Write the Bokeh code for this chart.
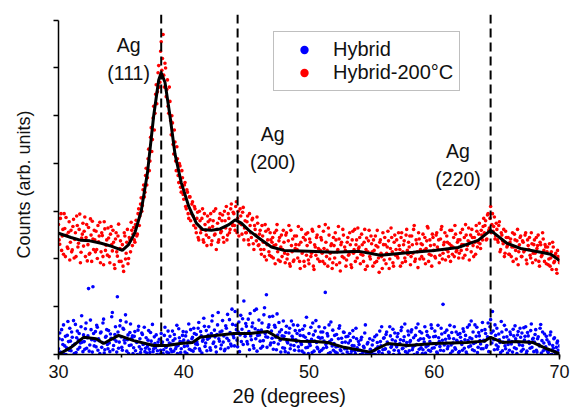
import numpy as np
from bokeh.plotting import figure
from bokeh.models import Range1d, SingleIntervalTicker, Span, Legend, LegendItem, Title
from bokeh.core.properties import value
from bokeh.embed import file_html
from bokeh.resources import INLINE

# ---------------- data ----------------
two_theta_start = 30.0
two_theta_end = 70.0

# "Hybrid" scatter counts, one per 0.1 degree from 30.00 to 70.00
hybrid_counts_a = [
    0.12, 0.45, 0.03, 0.31, 0.62, 0.18, 0.00, 0.40, 0.27, 0.55,
    0.08, 0.36, 0.71, 0.22, 0.04, 0.49, 0.30, 0.15, 0.58, 0.26,
    0.41, 0.11, 0.66, 0.35, 1.38, 0.20, 0.52, 0.05, 0.44, 0.29,
    0.16, 0.57, 0.33, 0.02, 0.47, 0.25, 0.74, 0.10, 0.38, 0.21,
    0.50, 0.06, 0.34, 0.88, 0.19, 0.42, 0.28, 1.21, 0.13, 0.60,
    0.37, 0.09, 0.53, 0.24, 0.68, 0.31, 0.02, 0.46, 0.20, 0.39,
    0.14, 0.48, 0.27, 0.00, 0.59, 0.33, 0.11, 0.42, 0.22, 0.06,
    0.35, 0.17, 0.50, 0.04, 0.28, 0.63, 0.12, 0.23, 0.41, 0.08,
    0.19, 0.01, 0.44, 0.26, 0.10, 0.57, 0.15, 0.31, 0.03, 0.38,
    0.22, 0.49, 0.07, 0.33, 0.16, 0.02, 0.54, 0.27, 0.12, 0.40,
    0.30, 0.05, 0.47, 0.18, 0.64, 0.25, 0.09, 0.36, 0.55, 0.13,
    0.42, 0.21, 0.67, 0.08, 0.39, 0.28, 0.76, 0.17, 0.50, 0.32,
    0.58, 0.14, 0.44, 0.81, 0.26, 0.37, 0.05, 0.62, 0.33, 0.47,
    0.20, 0.71, 0.39, 0.11, 0.55, 0.84, 0.29, 0.46, 0.18, 0.63,
    0.35, 0.90, 0.52, 0.16, 0.68, 0.41, 0.27, 0.75, 1.12, 0.38,
    0.59, 0.22, 0.48, 0.86, 0.31, 0.66, 0.13, 0.54, 0.95, 0.40,
    0.72, 0.28, 0.51, 0.17, 0.83, 0.44, 1.25, 0.36, 0.62, 0.20,
    0.49, 0.80, 0.25, 0.57, 0.10, 0.41, 0.67, 0.30, 0.52, 0.14,
    0.38, 0.06, 0.59, 0.24, 0.45, 0.12, 0.70, 0.33, 0.19, 0.50,
    0.27, 0.61, 0.08, 0.40, 0.21, 0.53, 0.03, 0.36, 0.78, 0.15,
    0.44, 0.19, 0.32, 0.66, 0.07, 0.49, 0.25, 0.12, 0.58, 0.34,
    0.09, 0.47, 0.28, 1.30, 0.15, 0.39, 0.62, 0.04, 0.31, 0.51,
    0.23, 0.05, 0.42, 0.17, 0.55, 0.10, 0.34, 0.01, 0.46, 0.26,
    0.12, 0.38, 0.00, 0.29, 0.07, 0.50, 0.18, 0.02, 0.33, 0.09,
    0.21, 0.00, 0.36, 0.05, 0.14, 0.62, 0.02, 0.25, 0.00, 0.11,
    0.03, 0.30, 0.08, 0.00, 0.41, 0.16, 0.06, 0.27, 0.58, 0.10,
    0.35, 0.12, 0.47, 0.22, 0.04, 0.39, 0.18, 0.53, 0.09, 0.28,
    0.16, 0.44, 0.02, 0.31, 0.57, 0.13, 0.37, 0.06, 0.25, 0.49,
    0.08, 0.29, 0.52, 0.15, 0.00, 0.40, 0.21, 0.64, 0.11, 0.33,
    0.45, 0.10, 0.26, 0.03, 0.48, 0.19, 0.36, 0.07, 0.55, 0.23,
    0.14, 0.38, 0.05, 0.61, 0.27, 0.09, 0.43, 1.05, 0.20, 0.32,
    0.51, 0.17, 0.34, 0.02, 0.46, 0.24, 0.58, 0.11, 0.30, 0.42,
    0.06, 0.36, 0.21, 0.54, 0.13, 0.40, 0.01, 0.29, 0.62, 0.18,
    0.33, 0.47, 0.08, 0.25, 0.57, 0.15, 0.39, 0.22, 0.50, 0.12,
    0.28, 0.44, 0.19, 0.66, 0.35, 0.73, 0.24, 0.49, 0.10, 0.40,
    0.55, 0.16, 0.31, 0.04, 0.47, 0.26, 0.61, 0.12, 0.37, 0.21,
    0.09, 0.42, 0.27, 0.53, 0.14, 0.33, 0.02, 0.48, 0.20, 0.36,
    0.45, 0.11, 0.30, 0.58, 0.07, 0.39, 0.23, 0.50, 0.15, 0.34,
    0.26, 0.52, 0.05, 0.37, 0.18, 0.63, 0.29, 0.08, 0.43, 0.16,
    0.31, 0.04, 0.22, 0.47, 0.00, 0.13, 0.35, 0.02, 0.24, 0.09,
    0.18,
]
# "Hybrid" scatter counts, one per 0.1 degree from 30.05 to 69.95
hybrid_counts_b = [
    0.33, 0.05, 0.52, 0.21, 0.00, 0.38, 0.14, 0.69, 0.09, 0.28,
    0.47, 0.19, 0.02, 0.63, 0.35, 0.11, 0.44, 0.24, 0.81, 0.06,
    0.27, 0.54, 0.13, 0.39, 0.07, 0.72, 0.31, 1.42, 0.18, 0.48,
    0.61, 0.09, 0.29, 0.45, 0.15, 0.66, 0.03, 0.36, 0.52, 0.12,
    0.24, 0.43, 0.79, 0.10, 0.32, 0.58, 0.05, 0.47, 0.26, 0.71,
    0.15, 0.55, 0.30, 0.83, 0.07, 0.41, 0.19, 0.64, 0.34, 0.02,
    0.38, 0.08, 0.25, 0.51, 0.16, 0.04, 0.45, 0.21, 0.57, 0.13,
    0.03, 0.30, 0.11, 0.46, 0.20, 0.06, 0.37, 0.14, 0.00, 0.26,
    0.32, 0.09, 0.22, 0.02, 0.40, 0.17, 0.05, 0.49, 0.24, 0.11,
    0.06, 0.29, 0.42, 0.12, 0.61, 0.19, 0.35, 0.04, 0.26, 0.48,
    0.17, 0.39, 0.02, 0.28, 0.11, 0.52, 0.33, 0.07, 0.44, 0.22,
    0.26, 0.55, 0.12, 0.48, 0.03, 0.31, 0.59, 0.24, 0.08, 0.40,
    0.35, 0.09, 0.70, 0.23, 0.51, 0.16, 0.42, 0.88, 0.28, 0.12,
    0.49, 0.26, 0.08, 0.60, 0.34, 0.14, 0.73, 0.22, 0.95, 0.40,
    0.18, 0.61, 0.30, 0.47, 0.06, 0.82, 0.53, 0.21, 0.44, 0.65,
    0.27, 0.74, 0.10, 0.39, 0.58, 0.19, 0.92, 0.33, 0.07, 0.50,
    0.41, 0.13, 0.66, 0.29, 0.98, 0.37, 0.15, 0.57, 0.79, 0.24,
    0.34, 0.11, 0.61, 0.36, 0.85, 0.22, 0.47, 0.05, 0.39, 0.70,
    0.13, 0.46, 0.27, 0.03, 0.55, 0.20, 0.38, 0.62, 0.09, 0.31,
    0.44, 0.16, 0.50, 0.25, 0.07, 0.39, 0.60, 0.14, 0.29, 0.02,
    0.23, 0.57, 0.04, 0.41, 0.28, 0.71, 0.15, 0.36, 0.06, 0.47,
    0.35, 0.13, 0.56, 0.21, 0.44, 0.02, 0.27, 0.68, 0.18, 0.09,
    0.40, 0.16, 0.03, 0.33, 0.60, 0.08, 0.25, 0.47, 0.12, 0.37,
    0.05, 0.24, 0.44, 0.01, 0.19, 0.36, 0.08, 0.55, 0.14, 0.27,
    0.09, 0.31, 0.01, 0.17, 0.45, 0.04, 0.22, 0.00, 0.33, 0.06,
    0.20, 0.00, 0.37, 0.12, 0.25, 0.05, 0.49, 0.18, 0.02, 0.34,
    0.11, 0.42, 0.26, 0.05, 0.58, 0.15, 0.31, 0.00, 0.45, 0.20,
    0.37, 0.08, 0.23, 0.50, 0.12, 0.29, 0.64, 0.18, 0.03, 0.41,
    0.26, 0.47, 0.10, 0.35, 0.19, 0.56, 0.04, 0.30, 0.48, 0.14,
    0.02, 0.33, 0.58, 0.16, 0.40, 0.09, 0.27, 0.62, 0.13, 0.37,
    0.49, 0.21, 0.03, 0.35, 0.17, 0.55, 0.30, 0.08, 0.46, 0.24,
    0.12, 0.39, 0.61, 0.20, 0.07, 0.33, 0.14, 0.47, 0.26, 0.04,
    0.44, 0.27, 0.09, 0.48, 0.31, 0.05, 0.57, 0.16, 0.35, 0.70,
    0.10, 0.23, 0.62, 0.38, 0.04, 0.46, 0.29, 0.12, 0.67, 0.30,
    0.52, 0.15, 0.37, 0.06, 0.58, 0.45, 0.90, 0.31, 0.62, 0.20,
    0.11, 0.43, 0.25, 0.69, 0.08, 0.36, 0.18, 0.52, 0.03, 0.30,
    0.47, 0.22, 0.05, 0.39, 0.60, 0.12, 0.41, 0.25, 0.55, 0.07,
    0.19, 0.56, 0.38, 0.02, 0.46, 0.27, 0.13, 0.64, 0.32, 0.06,
    0.42, 0.09, 0.33, 0.21, 0.55, 0.03, 0.47, 0.24, 0.11, 0.38,
    0.07, 0.26, 0.41, 0.00, 0.19, 0.33, 0.06, 0.15, 0.28, 0.01,
]

# "Hybrid-200°C" scatter counts, one per 0.1 degree from 30.00 to 70.00
hybrid200_counts_a = [
    2.72, 2.31, 2.95, 2.48, 2.10, 2.64, 2.87, 2.25, 2.56, 1.98,
    2.60, 2.19, 2.83, 2.41, 2.05, 2.70, 2.33, 2.94, 2.14, 2.52,
    2.27, 2.88, 2.45, 1.96, 2.66, 2.12, 2.50, 2.79, 2.20, 2.40,
    2.58, 2.01, 2.36, 2.77, 2.15, 2.49, 1.88, 2.63, 2.29, 2.08,
    2.44, 1.92, 2.68, 2.17, 2.35, 1.80, 2.55, 2.06, 2.73, 2.22,
    1.95, 2.30, 1.74, 2.48, 2.12, 2.62, 2.01, 2.40, 2.77, 2.28,
    2.66, 2.35, 2.81, 2.52, 3.05, 2.90, 3.28, 3.12, 3.55, 3.40,
    3.90, 3.70, 4.30, 4.05, 4.75, 4.50, 5.20, 5.05, 5.65, 5.50,
    6.05, 5.70, 6.55, 6.20, 5.85, 6.10, 5.40, 5.75, 5.05, 5.30,
    4.60, 4.85, 4.20, 4.45, 3.85, 4.10, 3.60, 3.95, 3.40, 3.70,
    3.25, 3.60, 3.05, 3.40, 2.85, 3.30, 2.95, 3.20, 2.70, 3.05,
    2.55, 2.98, 2.40, 2.80, 2.62, 3.05, 2.35, 2.72, 2.50, 2.90,
    2.45, 2.82, 2.30, 2.68, 3.00, 2.52, 2.20, 2.75, 2.40, 2.95,
    2.58, 2.92, 2.35, 2.80, 3.10, 2.50, 2.85, 2.62, 3.15, 2.70,
    2.95, 2.60, 3.20, 2.85, 2.48, 3.05, 2.72, 2.98, 2.40, 2.80,
    2.55, 2.90, 2.30, 2.70, 2.45, 2.85, 2.20, 2.62, 2.38, 2.75,
    2.30, 2.60, 2.10, 2.48, 2.20, 2.72, 1.98, 2.40, 2.15, 2.55,
    2.05, 2.45, 2.28, 1.90, 2.60, 2.15, 2.38, 1.95, 2.50, 2.20,
    2.35, 1.92, 2.55, 2.10, 2.70, 1.85, 2.28, 2.42, 1.98, 2.22,
    2.48, 2.02, 2.30, 1.80, 2.62, 2.15, 1.95, 2.40, 2.08, 2.55,
    1.90, 2.35, 2.12, 2.58, 1.78, 2.25, 2.45, 2.00, 2.68, 2.18,
    2.40, 1.95, 2.22, 2.72, 2.05, 1.85, 2.50, 2.12, 2.32, 1.92,
    2.28, 2.55, 1.88, 2.20, 2.42, 1.75, 2.35, 2.62, 2.02, 2.18,
    1.98, 2.45, 2.10, 2.30, 1.82, 2.58, 2.20, 1.95, 2.40, 2.65,
    2.25, 1.90, 2.52, 2.08, 2.35, 1.78, 2.44, 2.15, 2.60, 2.00,
    2.32, 1.85, 2.18, 2.48, 1.95, 2.25, 1.72, 2.40, 2.05, 2.55,
    1.98, 2.30, 2.12, 2.58, 1.80, 2.22, 2.45, 1.92, 2.35, 2.08,
    2.40, 2.02, 2.28, 1.85, 2.55, 2.15, 2.38, 1.95, 2.62, 2.10,
    2.25, 1.88, 2.48, 2.12, 2.70, 2.00, 2.32, 1.82, 2.42, 2.20,
    2.05, 2.52, 2.18, 1.90, 2.38, 2.65, 2.10, 2.28, 1.85, 2.45,
    2.30, 2.02, 2.55, 2.20, 1.92, 2.42, 2.68, 2.12, 2.35, 1.98,
    2.48, 2.15, 2.32, 1.95, 2.60, 2.25, 2.05, 2.52, 2.18, 2.40,
    2.12, 2.55, 2.30, 2.02, 2.45, 2.72, 2.20, 2.38, 1.98, 2.50,
    2.62, 2.28, 2.45, 2.10, 2.58, 2.35, 2.75, 2.22, 2.50, 2.68,
    2.55, 2.80, 2.42, 2.95, 2.65, 3.10, 2.72, 2.58, 2.88, 2.48,
    2.62, 2.35, 2.78, 2.20, 2.50, 2.32, 2.05, 2.58, 2.25, 2.45,
    2.10, 2.42, 2.25, 1.95, 2.52, 2.18, 2.38, 1.88, 2.30, 2.48,
    2.05, 2.35, 2.18, 2.55, 1.90, 2.28, 2.45, 2.02, 2.32, 2.12,
    2.40, 1.98, 2.22, 2.50, 1.85, 2.30, 2.08, 2.42, 1.95, 2.25,
    2.15, 1.88, 2.32, 2.02, 1.78, 2.25, 1.95, 2.12, 1.70, 2.05,
    1.92,
]
# "Hybrid-200°C" scatter counts, one per 0.1 degree from 30.05 to 69.95
hybrid200_counts_b = [
    2.40, 2.85, 2.18, 2.62, 2.95, 2.05, 2.50, 2.22, 2.78, 2.35,
    2.15, 2.68, 2.02, 2.55, 2.90, 2.25, 2.62, 1.92, 2.44, 2.75,
    2.58, 2.05, 2.72, 2.30, 2.10, 2.84, 1.95, 2.42, 2.60, 2.15,
    2.20, 2.70, 2.48, 1.92, 2.55, 2.05, 2.78, 2.18, 2.40, 2.65,
    2.05, 2.52, 2.30, 2.60, 1.88, 2.42, 2.15, 2.48, 1.95, 2.38,
    2.20, 1.85, 2.55, 2.00, 2.35, 1.90, 2.45, 2.15, 2.60, 2.52,
    2.40, 2.72, 2.48, 2.95, 2.70, 3.15, 3.00, 3.45, 3.30, 3.75,
    3.55, 4.10, 3.85, 4.55, 4.25, 4.95, 4.70, 5.45, 5.25, 5.90,
    5.60, 6.35, 5.95, 6.70, 5.60, 6.00, 5.55, 5.20, 5.60, 4.90,
    5.00, 4.40, 4.70, 4.05, 4.35, 3.75, 4.00, 3.50, 3.85, 3.35,
    3.55, 3.10, 3.45, 2.95, 3.30, 2.80, 3.15, 2.90, 3.10, 2.65,
    2.85, 2.45, 3.00, 2.55, 2.85, 2.40, 2.95, 2.60, 2.28, 2.78,
    2.65, 2.95, 2.38, 2.80, 2.50, 3.05, 2.62, 2.35, 2.85, 2.55,
    2.80, 2.45, 3.00, 2.65, 2.40, 2.95, 2.55, 3.05, 2.75, 2.98,
    2.70, 3.10, 2.55, 3.00, 2.75, 2.90, 2.52, 3.08, 2.65, 2.55,
    2.78, 2.40, 2.95, 2.55, 2.82, 2.32, 2.70, 2.50, 2.88, 2.28,
    2.52, 2.20, 2.70, 2.35, 2.05, 2.58, 2.30, 2.62, 2.08, 2.40,
    2.35, 2.02, 2.55, 2.30, 2.72, 1.98, 2.45, 2.25, 2.05, 2.60,
    2.12, 2.50, 2.00, 2.38, 1.90, 2.60, 2.15, 1.95, 2.48, 2.30,
    2.20, 2.68, 1.95, 2.35, 2.12, 2.45, 1.85, 2.52, 2.28, 1.98,
    2.42, 2.05, 2.62, 1.85, 2.30, 2.08, 2.50, 2.22, 1.95, 2.45,
    2.12, 2.58, 1.90, 2.35, 2.18, 2.65, 2.00, 2.28, 1.80, 2.45,
    2.02, 2.40, 2.15, 2.68, 1.92, 2.30, 2.05, 2.50, 2.25, 1.85,
    2.35, 2.08, 2.55, 1.88, 2.40, 2.12, 2.62, 2.30, 2.02, 2.22,
    2.45, 2.10, 2.30, 1.95, 2.62, 2.20, 1.85, 2.38, 2.05, 2.48,
    2.15, 2.40, 1.92, 2.28, 2.60, 2.02, 2.35, 2.12, 1.80, 2.30,
    2.45, 1.90, 2.25, 2.38, 2.00, 2.65, 2.15, 1.85, 2.50, 2.20,
    2.05, 2.55, 2.20, 2.45, 1.92, 2.30, 2.02, 2.50, 2.18, 2.35,
    2.48, 2.05, 2.30, 2.62, 1.95, 2.40, 2.15, 2.55, 2.00, 2.32,
    2.30, 2.00, 2.45, 2.22, 2.68, 1.95, 2.40, 2.08, 2.52, 2.18,
    2.05, 2.50, 2.25, 2.40, 2.08, 2.62, 2.00, 2.30, 2.55, 2.20,
    2.35, 2.05, 2.60, 2.28, 2.10, 2.45, 2.70, 2.15, 2.35, 2.02,
    2.40, 2.18, 2.62, 2.30, 2.08, 2.50, 2.28, 2.65, 2.35, 2.15,
    2.45, 2.05, 2.35, 2.70, 2.25, 2.52, 2.32, 2.60, 2.40, 2.85,
    2.70, 2.40, 2.92, 2.60, 2.85, 2.55, 2.95, 2.68, 2.42, 2.75,
    2.40, 2.70, 2.15, 2.55, 2.38, 2.62, 2.12, 2.45, 2.28, 2.10,
    2.35, 2.05, 2.55, 2.25, 2.40, 2.00, 2.62, 2.15, 2.45, 2.05,
    2.38, 2.15, 2.50, 1.98, 2.40, 2.20, 2.08, 2.55, 1.92, 2.30,
    2.12, 2.45, 2.28, 1.95, 2.35, 2.05, 2.55, 2.18, 2.30, 1.90,
    2.25, 2.00, 1.85, 2.15, 2.35, 1.92, 2.08, 1.78, 2.18, 1.98,
]

# smoothed (black) curves
hybrid_fit_x = [30, 31, 32, 33, 33.6, 34.8, 36, 37.6, 38.7, 39.7, 40.7,
                41.3, 42.5, 44, 45.3, 46.7, 47.7, 49.3, 50.5, 51.5, 52.8,
                54.9, 56.3, 57.9, 60, 62.6, 64.0, 64.5, 65.5, 66.5, 67.9,
                69, 70]
hybrid_fit_y = [0.0, 0.15, 0.36, 0.33, 0.23, 0.40, 0.29, 0.19, 0.19, 0.23,
                0.25, 0.36, 0.40, 0.44, 0.44, 0.48, 0.33, 0.28, 0.27, 0.25,
                0.15, 0.05, 0.23, 0.19, 0.23, 0.25, 0.28, 0.36, 0.25, 0.27,
                0.25, 0.12, 0.02]

hybrid200_fit_x = [30, 31, 31.8, 32.5, 33.4, 34.2, 35.1, 35.6, 36.1, 36.6,
                   37.1, 37.6, 38.0, 38.2, 38.5, 38.9, 39.3, 39.8, 40.4,
                   41.0, 41.5, 42.2, 42.9, 43.6, 44.1, 44.6, 45.2, 46.1,
                   47.0, 48.0, 50.0, 52.0, 54.0, 55.7, 58.3, 60.0, 61.9,
                   63.5, 64.5, 65.8, 66.9, 68.5, 69.3, 70]
hybrid200_fit_y = [2.54, 2.45, 2.39, 2.38, 2.33, 2.27, 2.18, 2.30, 2.55,
                   3.00, 3.80, 5.00, 5.75, 5.90, 5.70, 5.00, 4.20, 3.60,
                   3.10, 2.75, 2.62, 2.60, 2.63, 2.72, 2.82, 2.75, 2.60,
                   2.42, 2.25, 2.18, 2.16, 2.14, 2.16, 2.08, 2.14, 2.18,
                   2.24, 2.39, 2.60, 2.33, 2.22, 2.14, 2.10, 1.97]

peak_positions = [38.2, 44.3, 64.5]
peak_labels = ["Ag\n(111)", "Ag\n(200)", "Ag\n(220)"]
series_names = ["Hybrid", "Hybrid-200\u00b0C"]
x_label = "2\u03b8 (degrees)"
y_label = "Counts (arb. units)"

# label placement (annotation positions, in data units)
label_x = [35.6, 47.1, 61.9]
label_y = [6.18, 4.32, 3.96]

FONT = "Liberation Sans"
BLUE = "#0000ff"
RED = "#ff0000"
TXT = "#111111"

x_a = np.linspace(two_theta_start, two_theta_end, len(hybrid_counts_a))
x_b = np.linspace(two_theta_start + 0.05, two_theta_end - 0.05, len(hybrid_counts_b))
x_blue = np.concatenate([x_a, x_b])
y_blue = np.concatenate([hybrid_counts_a, hybrid_counts_b])
x_ra = np.linspace(two_theta_start, two_theta_end, len(hybrid200_counts_a))
x_rb = np.linspace(two_theta_start + 0.05, two_theta_end - 0.05, len(hybrid200_counts_b))
x_red = np.concatenate([x_ra, x_rb])
y_red = np.concatenate([hybrid200_counts_a, hybrid200_counts_b])

p = figure(width=572, height=415,
           x_range=Range1d(30, 70), y_range=Range1d(0, 7.12),
           output_backend="svg", toolbar_location=None,
           min_border_left=58, min_border_right=13,
           min_border_top=14, min_border_bottom=61)
p.grid.visible = False
p.outline_line_color = None
p.background_fill_color = "white"
p.border_fill_color = "white"

rb = p.scatter(x_blue, y_blue, size=3.6, color=BLUE, line_color=None)
rr = p.scatter(x_red, y_red, size=3.6, color=RED, line_color=None)

for pos in peak_positions:
    p.add_layout(Span(location=pos, dimension="height", line_color="black",
                      line_width=2, line_dash="9 5"))

p.line(hybrid_fit_x, hybrid_fit_y, line_color="black", line_width=3)
p.line(hybrid200_fit_x, hybrid200_fit_y, line_color="black", line_width=3)

p.text(x=label_x, y=label_y, text=peak_labels, text_align="center",
       text_baseline="middle", text_font=value(FONT),
       text_font_size="19.5px", text_color=TXT, text_line_height=1.28)

legend = Legend(items=[LegendItem(label=series_names[0], renderers=[rb]),
                       LegendItem(label=series_names[1], renderers=[rr])],
                location=(215, 263), padding=6, spacing=0, margin=0,
                glyph_width=48, glyph_height=21, label_height=21,
                label_standoff=5, label_text_font=FONT,
                label_text_font_size="20px", label_text_color=TXT,
                border_line_color="#808080",
                border_line_width=1, background_fill_alpha=1.0)
p.add_layout(legend)

# axes
xa = p.xaxis[0]
xa.ticker = SingleIntervalTicker(interval=10, num_minor_ticks=2)
xa.major_tick_in = 0
xa.major_tick_out = 5
xa.minor_tick_in = 0
xa.minor_tick_out = 3
xa.axis_line_width = 1.5
xa.major_tick_line_width = 1.5
xa.minor_tick_line_width = 1.5
xa.major_label_text_font = FONT
xa.major_label_text_font_size = "18px"
xa.major_label_text_color = TXT
xa.major_label_standoff = 5

# x-axis title, sitting slightly left of centre as in the reference
p.add_layout(Title(text=x_label, align="left", offset=174, standoff=7,
                   vertical_align="middle",
                   text_font=FONT, text_font_size="20px",
                   text_font_style="normal", text_color=TXT), "below")

ya = p.yaxis[0]
ya.ticker = SingleIntervalTicker(interval=1, num_minor_ticks=0)
ya.bounds = (0, 7)
ya.major_tick_in = 0
ya.major_tick_out = 5
ya.minor_tick_in = 0
ya.minor_tick_out = 0
ya.axis_line_width = 1.5
ya.major_tick_line_width = 1.5
ya.major_label_overrides = {i: "" for i in range(8)}
ya.axis_label = y_label
ya.axis_label_text_font = FONT
ya.axis_label_text_font_size = "18px"
ya.axis_label_text_font_style = "normal"
ya.axis_label_text_color = TXT
ya.axis_label_standoff = 20

open("out.html", "w").write(file_html(p, INLINE))
